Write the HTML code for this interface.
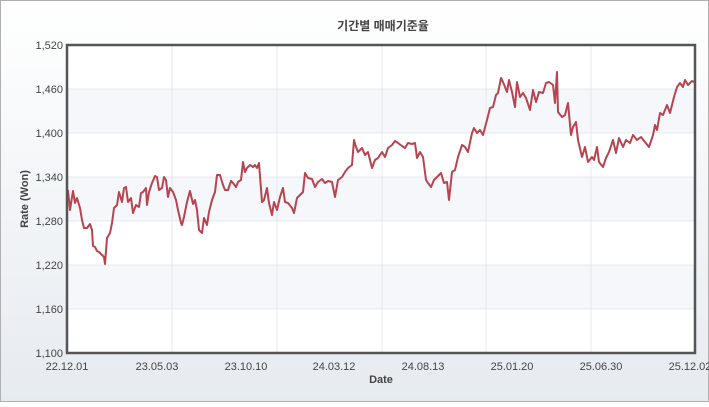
<!DOCTYPE html>
<html><head><meta charset="utf-8"><style>
body{margin:0;width:709px;height:402px;overflow:hidden;font-family:"Liberation Sans","Noto Sans CJK KR",sans-serif}
</style></head><body>
<svg width="709" height="402" xmlns="http://www.w3.org/2000/svg" font-family="Liberation Sans, Noto Sans CJK KR, sans-serif">
<defs><linearGradient id="bg" x1="0" y1="0" x2="0" y2="1"><stop offset="0" stop-color="#ffffff"/><stop offset="1" stop-color="#e6ebf0"/></linearGradient></defs>
<rect x="0.5" y="0.5" width="708" height="401" fill="url(#bg)" stroke="#b0b0b0"/>
<text x="383" y="30" text-anchor="middle" font-size="12" font-weight="bold" fill="#444">기간별 매매기준율</text>
<rect x="67" y="45" width="628" height="308" fill="#fff"/>
<rect x="67" y="89" width="628" height="44" fill="#f5f7fa"/>
<rect x="67" y="177" width="628" height="44" fill="#f5f7fa"/>
<rect x="67" y="265" width="628" height="44" fill="#f5f7fa"/>
<g stroke="#e4e8ec" stroke-width="1">
<line x1="67" y1="89" x2="695" y2="89"/><line x1="67" y1="133" x2="695" y2="133"/><line x1="67" y1="177" x2="695" y2="177"/><line x1="67" y1="221" x2="695" y2="221"/><line x1="67" y1="265" x2="695" y2="265"/><line x1="67" y1="309" x2="695" y2="309"/>
<line x1="172" y1="45" x2="172" y2="353"/><line x1="277" y1="45" x2="277" y2="353"/><line x1="382" y1="45" x2="382" y2="353"/><line x1="486" y1="45" x2="486" y2="353"/><line x1="591" y1="45" x2="591" y2="353"/>
</g>
<polyline fill="none" stroke="#b84450" stroke-width="2" stroke-linejoin="round" points="68,190 70,210 73,191 75,203 77,198 80,208 82,220 84,228 87,228 90,224 92,230 93,246 95,247 97,251 99,252 102,255 104,257 105,264 107,238 110,233 112,223 114,208 117,205 119,192 122,202 124,188 126,187 128,202 131,198 133,213 136,205 139,207 141,193 143,192 146,188 147,205 149,192 152,183 155,176 157,177 159,190 162,188 164,177 166,180 168,197 170,188 173,192 176,200 178,210 181,223 182,225 184,217 187,202 190,191 193,204 195,200 197,210 199,230 202,233 204,218 207,225 209,212 212,200 215,192 217,175 220,175 223,185 225,190 228,190 231,181 233,183 236,187 238,182 241,180 243,162 245,172 247,168 250,165 253,167 255,165 257,168 259,163 262,202 264,200 267,188 269,203 272,215 274,202 277,210 280,197 283,188 285,202 288,203 292,208 294,213 297,198 300,195 303,192 305,173 308,178 312,179 315,187 318,182 322,179 325,183 328,181 332,182 335,197 338,180 342,177 345,172 348,168 352,165 354,140 356,147 358,152 362,148 365,155 368,152 372,168 375,160 378,158 382,152 385,157 388,148 392,145 395,141 398,143 402,146 405,148 408,143 412,144 415,143 417,158 420,152 423,157 426,180 428,183 431,187 434,180 437,177 441,173 444,183 447,182 449,200 452,172 455,170 458,157 462,145 465,147 468,152 472,133 474,128 477,133 480,130 483,135 487,120 490,108 493,107 496,95 498,93 501,78 503,82 507,92 509,80 512,92 515,107 517,82 520,97 523,93 526,98 530,110 533,90 536,102 539,92 543,93 546,83 549,82 553,85 555,103 557,72 558,112 562,117 565,115 568,103 571,135 573,127 576,122 578,140 582,157 585,147 588,162 592,157 594,160 597,147 599,162 603,167 606,158 609,152 613,140 616,153 619,138 623,147 626,140 630,143 633,135 637,140 641,137 645,142 649,147 653,135 655,125 657,130 660,113 663,115 667,105 670,113 674,97 677,87 680,83 683,87 685,80 688,85 692,81 694,82"/>
<rect x="67" y="45" width="628" height="308" fill="none" stroke="#555" stroke-width="2.5"/>
<g font-size="11" fill="#444" text-anchor="end">
<text x="63" y="49">1,520</text><text x="63" y="93">1,460</text><text x="63" y="137">1,400</text><text x="63" y="181">1,340</text><text x="63" y="225">1,280</text><text x="63" y="269">1,220</text><text x="63" y="313">1,160</text><text x="63" y="357">1,100</text>
</g>
<g font-size="11" fill="#444" text-anchor="middle">
<text x="67" y="370">22.12.01</text><text x="157" y="370">23.05.03</text><text x="246" y="370">23.10.10</text><text x="334" y="370">24.03.12</text><text x="423" y="370">24.08.13</text><text x="512" y="370">25.01.20</text><text x="601" y="370">25.06.30</text><text x="690" y="370">25.12.02</text>
</g>
<text x="381" y="383" text-anchor="middle" font-size="11" font-weight="bold" fill="#444">Date</text>
<text transform="translate(28,199) rotate(-90)" text-anchor="middle" font-size="11" font-weight="bold" fill="#444">Rate (Won)</text>
</svg>
</body></html>
